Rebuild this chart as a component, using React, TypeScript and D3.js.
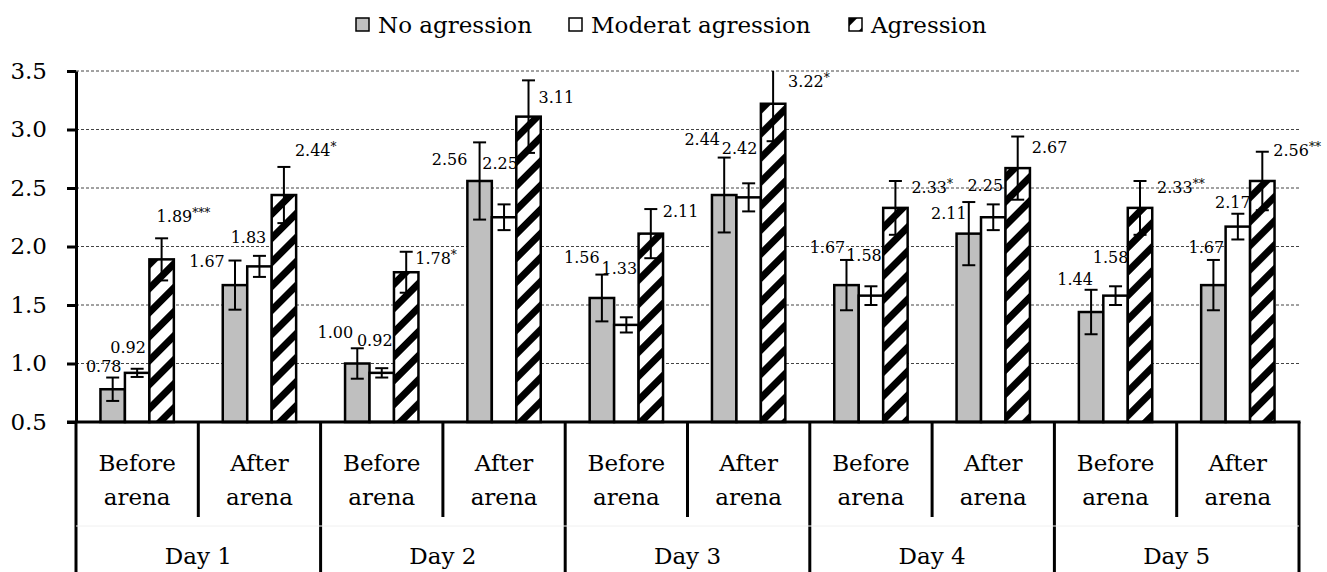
import React, { useEffect, useRef } from 'react';
import * as d3 from 'd3';

// categories
const days = ['Day 1', 'Day 2', 'Day 3', 'Day 4', 'Day 5'];
const phases = [['Before', 'arena'], ['After', 'arena']];
const seriesNames = ['No agression', 'Moderat agression', 'Agression'];

// means, in order D1 before, D1 after, D2 before, ...
const noAgression = [0.78, 1.67, 1.0, 2.56, 1.56, 2.44, 1.67, 2.11, 1.44, 1.67];
const moderatAgression = [0.92, 1.83, 0.92, 2.25, 1.33, 2.42, 1.58, 2.25, 1.58, 2.17];
const agression = [1.89, 2.44, 1.78, 3.11, 2.11, 3.22, 2.33, 2.67, 2.33, 2.56];

// standard errors
const noAgressionSE = [0.1, 0.21, 0.13, 0.33, 0.2, 0.32, 0.215, 0.27, 0.19, 0.215];
const moderatAgressionSE = [0.035, 0.09, 0.04, 0.11, 0.065, 0.12, 0.08, 0.11, 0.08, 0.11];
const agressionSE = [0.18, 0.24, 0.175, 0.31, 0.21, 0.32, 0.23, 0.27, 0.23, 0.25];

// significance marks on the agression labels
const agressionSig = ['***', '*', '*', '', '', '*', '*', '', '**', '**'];

const yTicks = [0.5, 1.0, 1.5, 2.0, 2.5, 3.0, 3.5];

// hand placed label offsets (from the top of the error bar)
const noAgressionNudge = [[-9, -12], [-28, 0], [-22, -16], [-30, 17], [-20, -18], [-22, -19], [-19, -13], [-20, 11], [-16, -11], [-7, -13]];
const moderatNudge = [[-9, -22], [-11, -19], [-7, -28], [-4, -41], [-7, -49], [-9, -35], [-7, -31], [-8, -19], [-5, -29], [-5, -12]];
const agressionNudge = [[-5, -22], [11, -17], [9, 6], [10, 17], [12, 2], [15, 10], [16, 6], [14, 10], [17, 6], [11, -2]];

const FONT = "'DejaVu Serif', serif";
const BIG = 23;
const SMALL = 16;

function drawChart(node: SVGSVGElement) {
	const svg = d3.select(node);
	svg.selectAll('*').remove();

	const left = 76;
	const right = 1299;
	const top = 71;
	const bottom = 422;

	const cats = days.flatMap((d) => phases.map((p) => d + '|' + p[0]));
	const x0 = d3.scaleBand().domain(cats).range([left, right]).padding(0);
	const bw = x0.bandwidth();
	const x1 = d3.scaleBand().domain(seriesNames).range([bw * 0.2, bw * 0.8]).padding(0);
	const y = d3.scaleLinear().domain([0.5, 3.5]).range([bottom, top]);

	const series = [
		{ name: seriesNames[0], values: noAgression, se: noAgressionSE, fill: '#bfbfbf', nudge: noAgressionNudge, anchor: 'middle' },
		{ name: seriesNames[1], values: moderatAgression, se: moderatAgressionSE, fill: '#ffffff', nudge: moderatNudge, anchor: 'middle' },
		{ name: seriesNames[2], values: agression, se: agressionSE, fill: 'url(#hatch)', nudge: agressionNudge, anchor: 'start' },
	];

	const defs = svg.append('defs');
	const pat = defs
		.append('pattern')
		.attr('id', 'hatch')
		.attr('patternUnits', 'userSpaceOnUse')
		.attr('width', 17)
		.attr('height', 17)
		.attr('patternTransform', 'rotate(45)');
	pat.append('rect').attr('width', 17).attr('height', 17).attr('fill', '#fff');
	pat.append('rect').attr('x', 0).attr('y', 0).attr('width', 7).attr('height', 17).attr('fill', '#000');

	// gridlines
	svg.append('g')
		.selectAll('line')
		.data(yTicks.slice(1))
		.enter()
		.append('line')
		.attr('x1', left)
		.attr('x2', right + 1)
		.attr('y1', (d) => y(d))
		.attr('y2', (d) => y(d))
		.attr('stroke', '#444')
		.attr('stroke-width', 1)
		.attr('stroke-dasharray', '3,2');

	// bars
	series.forEach((s) => {
		svg.append('g')
			.selectAll('rect')
			.data(s.values)
			.enter()
			.append('rect')
			.attr('x', (d, i) => (x0(cats[i]) as number) + (x1(s.name) as number))
			.attr('y', (d) => y(d))
			.attr('width', x1.bandwidth())
			.attr('height', (d) => y(0.5) - y(d))
			.attr('fill', s.fill)
			.attr('stroke', '#000')
			.attr('stroke-width', 2.5);
	});

	// error bars
	series.forEach((s) => {
		const g = svg.append('g').attr('stroke', '#000').attr('stroke-width', 2);
		s.values.forEach((v, i) => {
			const cx = (x0(cats[i]) as number) + (x1(s.name) as number) + x1.bandwidth() / 2;
			const hi = v + s.se[i];
			const lo = v - s.se[i];
			const clipped = hi > 3.5;
			g.append('line').attr('x1', cx).attr('x2', cx).attr('y1', y(lo)).attr('y2', y(Math.min(hi, 3.5)));
			g.append('line').attr('x1', cx - 6.5).attr('x2', cx + 6.5).attr('y1', y(lo)).attr('y2', y(lo));
			if (!clipped) {
				g.append('line').attr('x1', cx - 6.5).attr('x2', cx + 6.5).attr('y1', y(hi)).attr('y2', y(hi));
			}
		});
	});

	// y axis
	const yAxis = svg
		.append('g')
		.attr('transform', `translate(${left},0)`)
		.call(
			d3
				.axisLeft(y)
				.tickValues(yTicks)
				.tickFormat(d3.format('.1f'))
				.tickSize(9)
				.tickSizeOuter(0)
				.tickPadding(20)
		);
	yAxis.attr('font-family', FONT).attr('font-size', BIG);
	yAxis.select('.domain').attr('stroke-width', 3);
	yAxis.selectAll('.tick line').attr('stroke-width', 3);
	yAxis.selectAll('.tick text').style('font-family', FONT).attr('font-size', BIG).attr('fill', '#000');

	// x axis line + separators
	svg.append('line')
		.attr('x1', left - 9)
		.attr('x2', right + 1.5)
		.attr('y1', bottom)
		.attr('y2', bottom)
		.attr('stroke', '#000')
		.attr('stroke-width', 3);

	const edges = cats.map((c) => x0(c) as number).concat([right]);
	svg.append('g')
		.selectAll('line')
		.data(edges)
		.enter()
		.append('line')
		.attr('x1', (d) => d)
		.attr('x2', (d) => d)
		.attr('y1', bottom)
		.attr('y2', (d, i) => (i % 2 === 0 ? 572 : bottom + 95))
		.attr('stroke', '#000')
		.attr('stroke-width', 3);

	svg.append('line')
		.attr('x1', left)
		.attr('x2', right)
		.attr('y1', bottom + 104)
		.attr('y2', bottom + 104)
		.attr('stroke', '#f0f0f0')
		.attr('stroke-width', 1);

	// category labels
	const catLabels = svg.append('g').style('font-family', FONT).attr('font-size', BIG).attr('text-anchor', 'middle');
	cats.forEach((c, i) => {
		const cx = (x0(c) as number) + bw / 2;
		const lines = phases[i % 2];
		lines.forEach((t, j) => {
			catLabels
				.append('text')
				.attr('x', cx)
				.attr('y', bottom + 41 + j * 34)
				.attr('dominant-baseline', 'central')
				.text(t);
		});
	});
	days.forEach((d) => {
		const cx = (x0(d + '|Before') as number) + bw;
		catLabels.append('text').attr('x', cx).attr('y', bottom + 134).attr('dominant-baseline', 'central').text(d);
	});

	// data labels
	series.forEach((s, k) => {
		const g = svg.append('g').style('font-family', FONT).attr('font-size', SMALL);
		s.values.forEach((v, i) => {
			const cx = (x0(cats[i]) as number) + (x1(s.name) as number) + x1.bandwidth() / 2;
			const capY = y(Math.min(v + s.se[i], 3.5));
			const t = g
				.append('text')
				.attr('x', cx + s.nudge[i][0])
				.attr('y', capY + s.nudge[i][1])
				.attr('text-anchor', s.anchor)
				.attr('dominant-baseline', 'central');
			t.append('tspan').text(v.toFixed(2));
			if (k === 2 && agressionSig[i]) {
				t.append('tspan').attr('font-size', 12).attr('dy', -3).text(agressionSig[i]);
			}
		});
	});

	// legend
	const legendX = [356, 569, 849];
	const legend = svg.append('g').style('font-family', FONT).attr('font-size', BIG);
	series.forEach((s, k) => {
		legend
			.append('rect')
			.attr('x', legendX[k])
			.attr('y', 18)
			.attr('width', 13)
			.attr('height', 13)
			.attr('fill', s.fill)
			.attr('stroke', '#000')
			.attr('stroke-width', 1.5);
		legend
			.append('text')
			.attr('x', legendX[k] + 22)
			.attr('y', 25)
			.attr('dominant-baseline', 'central')
			.text(s.name);
	});
}

export default function App() {
	const ref = useRef<SVGSVGElement>(null);

	useEffect(() => {
		if (ref.current) drawChart(ref.current);
	}, []);

	return (
		<svg
			ref={ref}
			width={1327}
			height={572}
			style={{ position: 'absolute', left: 0, top: 0, background: '#fff' }}
		/>
	);
}
